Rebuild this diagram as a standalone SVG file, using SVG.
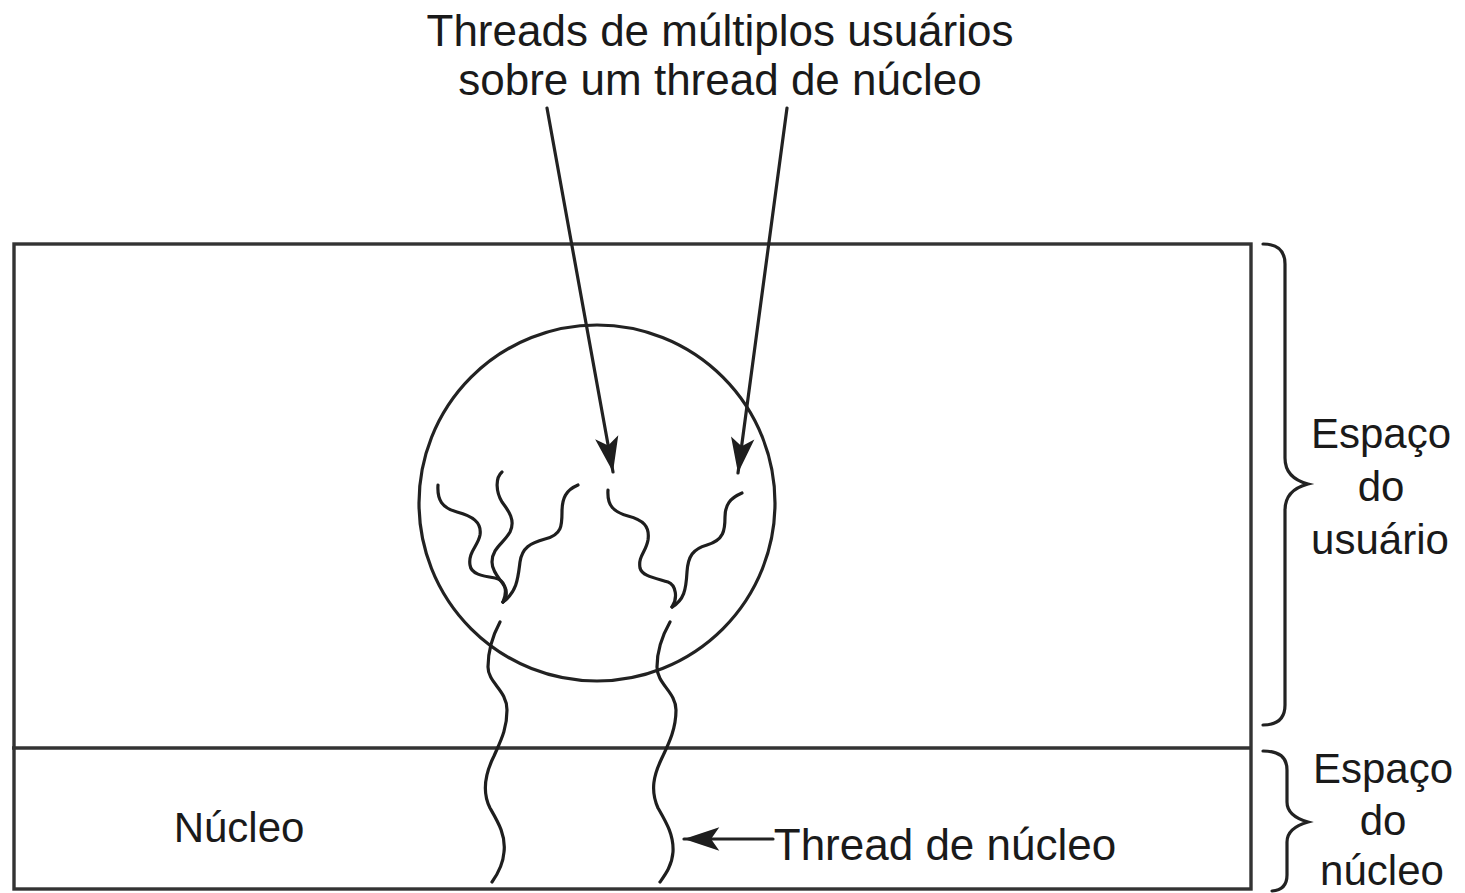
<svg xmlns="http://www.w3.org/2000/svg" width="1465" height="893" viewBox="0 0 1465 893">
<style>
.ln{fill:none;stroke:#222;stroke-width:3.2;stroke-linecap:round}
.frame{fill:none;stroke:#333;stroke-width:3.4}
.th{fill:none;stroke:#1e1e1e;stroke-width:3.2;stroke-linecap:round;stroke-linejoin:round}
.t{font-family:"Liberation Sans",Arial,sans-serif;fill:#1a1a1a;text-anchor:middle}
.big{font-size:44px}
.lab{font-size:42px}
</style>
<defs>
<marker id="ah" markerUnits="userSpaceOnUse" markerWidth="40" markerHeight="30" viewBox="-32 -12 34 24" refX="0" refY="0" orient="auto">
<path d="M0,0 L-30,-10 L-23,0 L-30,10 Z" fill="#1e1e1e"/>
</marker>
</defs>
<rect width="1465" height="893" fill="#fff"/>
<g id="space">
<rect class="frame" x="14" y="244" width="1237" height="645"/>
<line class="frame" x1="12" y1="748" x2="1251" y2="748"/>
</g>
<g id="process">
<circle class="ln" cx="597" cy="503" r="178"/>
</g>
<g id="user-threads">
<path class="th" d="M438,485 C437,500 442,508 457,512 C472,516 482,522 480,535 C478,546 468,552 470,565 C471,574 482,576 495,578 C505,580 508,590 503,602"/>
<path class="th" d="M502,472 C495,478 496,492 502,502 C508,510 516,520 510,532 C504,543 492,548 492,562 C492,574 504,582 506,590 C507,596 505,600 503,602"/>
<path class="th" d="M578,485 C566,490 562,498 562,512 C562,525 562,535 545,539 C530,543 522,548 520,562 C518,578 517,592 503,602"/>
<path class="th" d="M608,490 C607,505 613,512 628,516 C643,520 650,526 648,540 C646,552 638,556 640,568 C642,576 655,578 668,582 C676,585 678,598 672,607"/>
<path class="th" d="M742,493 C730,498 725,505 725,517 C725,530 724,540 707,545 C693,549 688,556 687,572 C686,590 684,600 672,607"/>
</g>
<g id="kernel-threads">
<path class="th" d="M500,622 C493,635 488,648 488,667 C488,683 507,690 507,710 C507,730 500,742 494,756 C486,772 481,790 490,808 C498,822 506,835 504,852 C503,866 497,875 492,882"/>
<path class="th" d="M670,622 C662,636 657,650 657,667 C657,684 676,692 676,710 C676,730 668,745 661,760 C654,775 650,790 658,808 C666,822 674,835 673,852 C672,866 665,875 660,882"/>
</g>
<g id="connectors">
<line class="ln" x1="547" y1="108" x2="613" y2="472" marker-end="url(#ah)"/>
<line class="ln" x1="787" y1="108" x2="738" y2="473" marker-end="url(#ah)"/>
<line class="ln" x1="773" y1="839" x2="684" y2="839" marker-end="url(#ah)"/>
</g>
<g id="braces">
<path class="ln" d="M1263,244 Q1285,244 1285,264 L1285,458 Q1285,478 1308,484 Q1285,490 1285,510 L1285,705 Q1285,725 1263,725"/>
<path class="ln" d="M1263,751 Q1287,751 1287,770 L1287,802 Q1287,816 1308,822 Q1287,828 1287,842 L1287,875 Q1287,890 1272,891"/>
</g>
<g id="labels">
<text class="t big" x="720" y="46">Threads de múltiplos usuários</text>
<text class="t big" x="720" y="95">sobre um thread de núcleo</text>
<text class="t lab" x="239" y="842">Núcleo</text>
<text class="t big" x="945" y="860">Thread de núcleo</text>
<text class="t lab" x="1381" y="448">Espaço</text>
<text class="t lab" x="1381" y="501">do</text>
<text class="t lab" x="1380" y="554">usuário</text>
<text class="t lab" x="1383" y="783">Espaço</text>
<text class="t lab" x="1383" y="835">do</text>
<text class="t lab" x="1382" y="885">núcleo</text>
</g>
</svg>
